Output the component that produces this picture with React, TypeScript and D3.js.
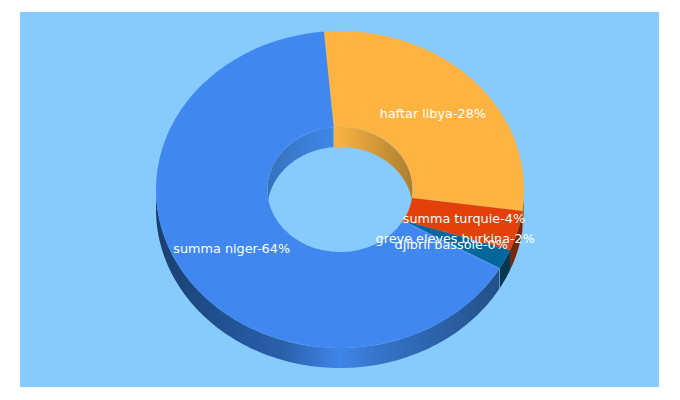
import { useMemo } from "react"
import { arc, line, pie, range } from "d3"

const names = ["haftar libya", "summa turquie", "greve eleves burkina", "djibril bassole", "summa niger"]
const values = [28, 4, 2, 0.1, 64]
const percents = [28, 4, 2, 0, 64]
const topColors = ["#ffb441", "#e4410a", "#04679b", "#4087f0", "#4087f0"]
const wallColors = ["#a87a30", "#74280a", "#07384f", "#6d9cc4", "url(#wall-blue)"]
// horizontal shading of the big slice's outer wall
const wallOffsets = [0, 0.25, 0.345, 0.435, 0.5, 0.575, 0.71, 0.89, 1]
const wallShades = ["#1b3f6e", "#2458a0", "#2a60aa", "#3676cf", "#3f86ea", "#3878d0", "#2f68b5", "#26548f", "#1f4a80"]

const WIDTH = 680
const HEIGHT = 400
const BG = "#86cbfc"
const cx = 340
const cy = 189.5
const rx = 184
const ry = 158.5
const innerRatio = 0.395
const depth = 20
const startDeg = -5

const toRad = (d: number) => (d * Math.PI) / 180
const px = (a: number, r: number) => cx + rx * r * Math.sin(a)
const py = (a: number, r: number) => cy - ry * r * Math.cos(a)

const sweep = (a0: number, a1: number) => {
  const n = Math.max(2, Math.ceil(Math.abs(a1 - a0) / 0.02))
  return range(n + 1).map((i) => a0 + ((a1 - a0) * i) / n)
}

// band between an elliptical arc and the same arc pushed down by the depth
function wallPath(a0: number, a1: number, r: number) {
  const ang = sweep(a0, a1)
  const pts: [number, number][] = [
    ...ang.map((a): [number, number] => [px(a, r), py(a, r)]),
    ...ang.slice().reverse().map((a): [number, number] => [px(a, r), py(a, r) + depth]),
  ]
  return line()(pts) + "Z"
}

// top face where the inner edge does not share the outer edge's angles
function skewedSlice(a0: number, a1: number, i0: number, i1: number) {
  const pts: [number, number][] = [
    ...sweep(a0, a1).map((a): [number, number] => [px(a, 1), py(a, 1)]),
    ...sweep(i1, i0).map((a): [number, number] => [px(a, innerRatio), py(a, innerRatio)]),
  ]
  return line()(pts) + "Z"
}

export default function App() {
  const slices = useMemo(
    () =>
      pie<number>()
        .sort(null)
        .startAngle(toRad(startDeg))
        .endAngle(toRad(startDeg + 360))(values),
    []
  )
  const sliceArc = arc<any>().innerRadius(rx * innerRatio).outerRadius(rx)
  const scaleY = ry / rx
  // red and teal meet the hole at one point, next to the big slice
  const tip = slices[2].endAngle

  return (
    <svg
      width={WIDTH}
      height={HEIGHT}
      style={{ position: "absolute", left: 0, top: 0, fontFamily: "'DejaVu Sans'" }}
    >
      <defs>
        <linearGradient id="wall-blue" gradientUnits="userSpaceOnUse" x1={cx - rx} x2={cx + rx} y1={0} y2={0}>
          {wallOffsets.map((o, i) => (
            <stop key={o} offset={o} stopColor={wallShades[i]} />
          ))}
        </linearGradient>
        <linearGradient id="inner-blue" gradientUnits="userSpaceOnUse" x1={cx - rx * innerRatio} x2={cx} y1={0} y2={0}>
          <stop offset={0} stopColor="#3672bb" />
          <stop offset={1} stopColor="#4189ee" />
        </linearGradient>
        <linearGradient id="inner-orange" gradientUnits="userSpaceOnUse" x1={cx} x2={cx + rx * innerRatio} y1={0} y2={0}>
          <stop offset={0} stopColor="#f7b142" />
          <stop offset={1} stopColor="#ad7e30" />
        </linearGradient>
        <clipPath id="hole">
          <ellipse cx={cx} cy={cy} rx={rx * innerRatio} ry={ry * innerRatio} />
        </clipPath>
      </defs>

      <rect x={20} y={12} width={639} height={375} fill={BG} />

      {/* outer wall, only the front half shows */}
      {slices.map((s, i) => {
        const a0 = Math.max(s.startAngle, toRad(90))
        const a1 = Math.min(s.endAngle, toRad(270))
        if (a1 <= a0) return null
        return <path key={i} d={wallPath(a0, a1, 1)} fill={wallColors[i]} />
      })}

      {/* inner wall, seen through the hole */}
      <g clipPath="url(#hole)">
        <path d={wallPath(toRad(-90), toRad(startDeg), innerRatio)} fill="url(#inner-blue)" />
        <path d={wallPath(toRad(startDeg), toRad(90), innerRatio)} fill="url(#inner-orange)" />
      </g>

      {/* top face */}
      {slices.map((s, i) =>
        i === 1 || i === 2 ? (
          <path
            key={i}
            d={skewedSlice(s.startAngle, s.endAngle, i === 1 ? s.startAngle : tip, tip)}
            fill={topColors[i]}
          />
        ) : (
          <g key={i} transform={`translate(${cx},${cy}) scale(1,${scaleY})`}>
            <path d={sliceArc(s) ?? ""} fill={topColors[i]} />
          </g>
        )
      )}

      {/* labels */}
      <g fill="#fff" fontSize={12.8} textAnchor="middle">
        {slices.map((s, i) => {
          const mid = (s.startAngle + s.endAngle) / 2
          const r = (1 + innerRatio) / 2
          return (
            <text key={i} x={px(mid, r)} y={py(mid, r)} dy="0.35em">
              {`${names[i]}-${percents[i]}%`}
            </text>
          )
        })}
      </g>
    </svg>
  )
}
